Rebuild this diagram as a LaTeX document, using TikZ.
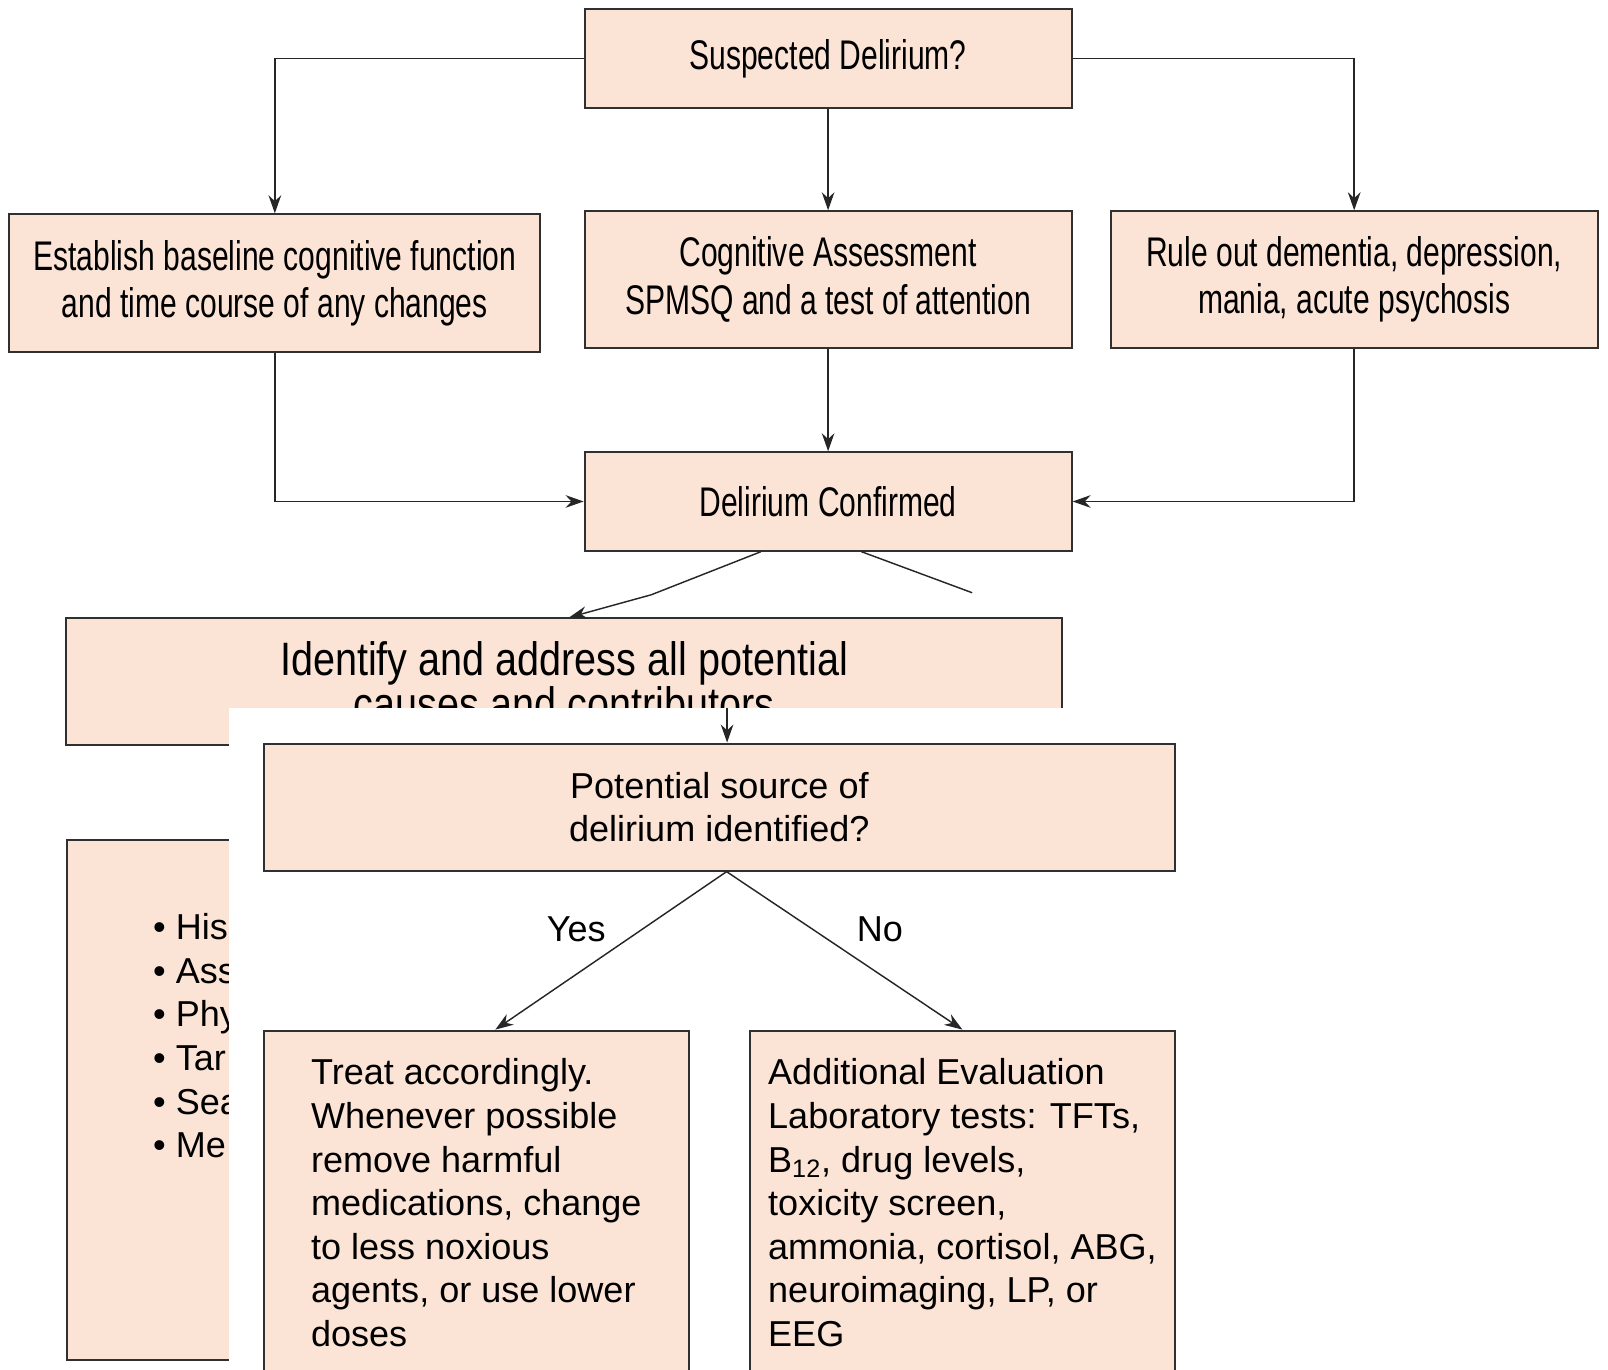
\documentclass[tikz,border=0pt]{standalone}
\usepackage{fontspec}
\setmainfont{Liberation Sans}
\newfontfamily\condfont[FakeStretch=0.725]{Liberation Sans}
\newfontfamily\semicondfont[FakeStretch=0.845]{Liberation Sans}
\usetikzlibrary{arrows.meta, positioning}
\definecolor{peach}{HTML}{FBE4D6}
\definecolor{edge}{HTML}{303030}

\begin{document}
\begin{tikzpicture}[x=0.02cm, y=-0.02cm,
  box/.style={draw=edge, fill=peach, line width=1.1pt, inner sep=0pt},
  upper/.style={box, font=\condfont\fontsize{23}{26.2}\selectfont, align=center},
  lower/.style={box, font=\fontsize{20}{24.2}\selectfont, align=left},
  arr/.style={draw=black!85, line width=0.8pt, -{Stealth[length=10pt, width=7pt]}},
  lin/.style={draw=black!85, line width=0.8pt}]

\useasboundingbox (0,0) rectangle (1568,1335);
\clip (0,0) rectangle (1568,1335);

% first page of the chart
\node (susp) at (807.5,57) [upper, minimum width=9.5cm, minimum height=1.92cm] {Suspected Delirium?};
\node (est) at (268,276) [upper, minimum width=10.36cm, minimum height=2.68cm] {Establish baseline cognitive function\\and time course of any changes};
\node (cog) at (807.5,272.5) [upper, minimum width=9.5cm, minimum height=2.66cm] {Cognitive Assessment\\SPMSQ and a test of attention};
\node (rule) at (1320.5,272.5) [upper, minimum width=9.5cm, minimum height=2.66cm] {Rule out dementia, depression,\\mania, acute psychosis};
\node (conf) at (807.5,489) [upper, minimum width=9.5cm, minimum height=1.92cm] {Delirium Confirmed};

\draw [arr] (susp.west) -| (est.north);
\draw [arr] (susp) -- (cog);
\draw [arr] (susp.east) -| (rule.north);
\draw [arr] (est.south) |- (conf.west);
\draw [arr] (cog) -- (conf);
\draw [arr] (rule.south) |- (conf.east);

\node (ident) at (550,664.5) [upper, font=\semicondfont\fontsize{26}{23.5}\selectfont, minimum width=19.44cm, minimum height=2.46cm] {Identify and address all potential\\causes and contributors};
\coordinate (bend) at (635,580);
\coordinate (cut) at (948,578);
\draw [arr] ([xshift=-1.31cm]conf.south) -- (bend) -- ([xshift=0.1cm]ident.north);
\draw [lin] ([xshift=0.65cm]conf.south) -- (cut);

\node (hist) at (64,818) [box, anchor=north west, minimum width=10cm, minimum height=10.14cm] {};
\node (items) at (149,1010) [anchor=west, align=left, inner sep=0pt, font=\fontsize{20}{24.2}\selectfont] {%
\textbullet\ His\\\textbullet\ Ass\\\textbullet\ Phy\\\textbullet\ Tar\\\textbullet\ Sea\\\textbullet\ Me};

% second page laid over the first
\fill [white] (223,690) rectangle (1568,1335);

\coordinate (gap) at (709,690);
\node (pot) at (701.5,787) [box, font=\fontsize{20}{24.2}\selectfont, align=center, minimum width=17.78cm, minimum height=2.48cm] {Potential source of\\delirium identified?};
\draw [arr] (gap) -- (gap |- pot.north);

\node (treat) at (464.5,1004) [lower, anchor=north, minimum width=8.3cm, minimum height=6.72cm] {Treat accordingly.\\Whenever possible\\remove harmful\\medications, change\\to less noxious\\agents, or use lower\\doses};
\node (add) at (938.5,1004) [lower, anchor=north, minimum width=8.3cm, minimum height=6.72cm] {Additional Evaluation\\Laboratory tests: TFTs,\\B\textsubscript{12}, drug levels,\\toxicity screen,\\ammonia, cortisol, ABG,\\neuroimaging, LP, or\\EEG};

\draw [arr] ([xshift=0.14cm]pot.south) -- ([xshift=0.37cm]treat.north);
\draw [arr] ([xshift=0.14cm]pot.south) -- (add.north);
\node (yes) at (562,906) [font=\fontsize{20}{24.2}\selectfont] {Yes};
\node (no) at (858,906) [font=\fontsize{20}{24.2}\selectfont] {No};

\end{tikzpicture}
\end{document}
